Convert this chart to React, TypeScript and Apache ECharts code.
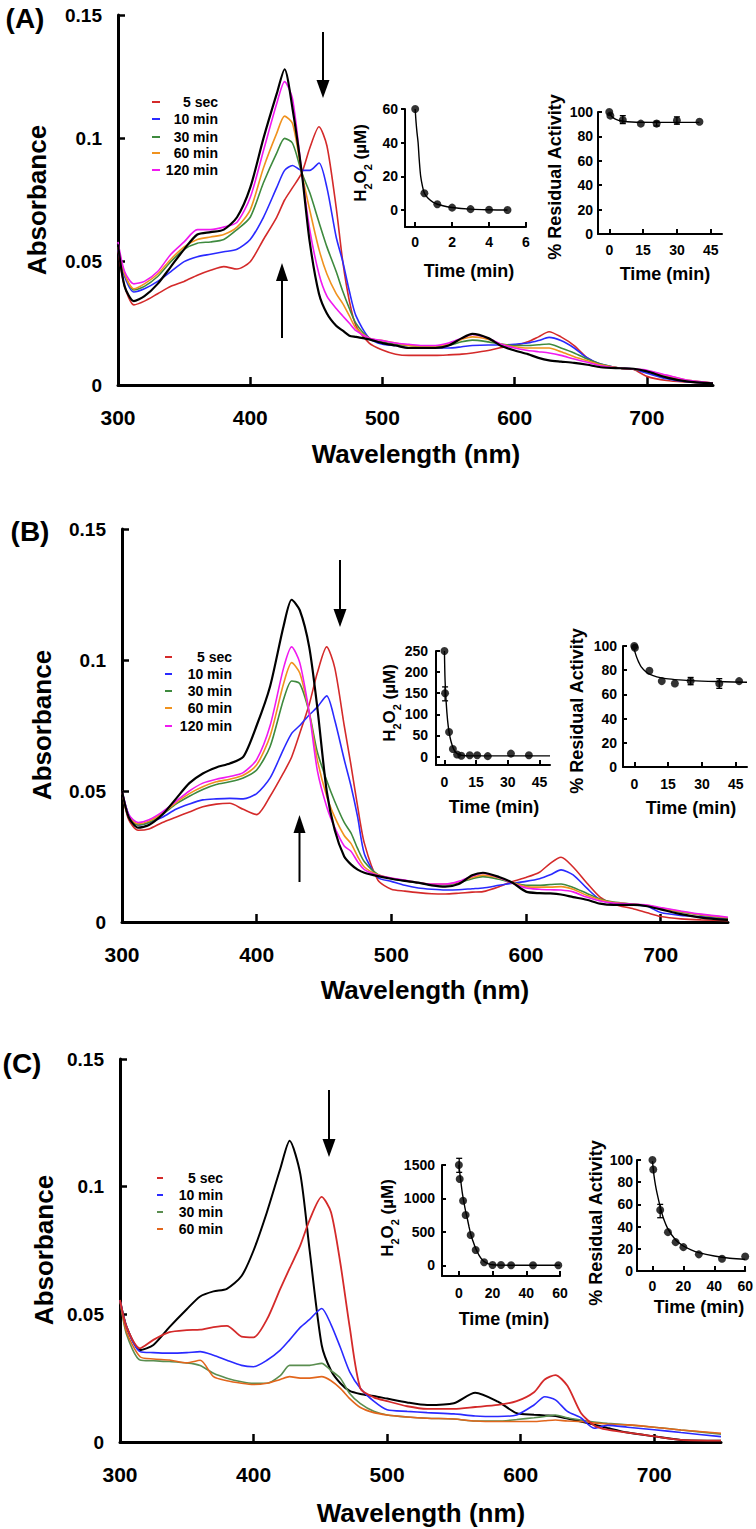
import React, { useEffect, useRef } from "react";
import * as echarts from "echarts";

const W = 756;
const H = 1529;
const FONT = '"Liberation Sans", Arial, Helvetica, sans-serif';
const NARROW = '"Liberation Sans Narrow", "Liberation Sans", Arial, sans-serif';

// ---------- Panel A spectra ----------
const wlA = [300, 305, 312, 320, 330, 340, 350, 360, 370, 380, 390, 400, 410, 420, 426, 432, 439, 445, 452, 458, 465, 470, 475, 480, 490, 500, 510, 520, 530, 540, 550, 560, 568, 580, 590, 600, 610, 618, 626, 635, 645, 655, 665, 680, 690, 700, 715, 730, 750];
const aRed = [.055, .040, .0325, .034, .037, .040, .042, .0445, .0465, .048, .047, .050, .059, .068, .075, .080, .086, .096, .1047, .097, .072, .050, .034, .024, .017, .0142, .0125, .012, .012, .012, .0122, .0125, .013, .014, .0152, .016, .0175, .0195, .0216, .0195, .016, .011, .0082, .0068, .0063, .0035, .0018, .0012, .0007];
const aBlue = [.055, .044, .0377, .039, .042, .046, .050, .052, .053, .054, .055, .059, .068, .080, .087, .089, .087, .087, .090, .080, .060, .050, .038, .028, .019, .0165, .016, .015, .015, .015, .015, .0155, .016, .0162, .0162, .0165, .017, .018, .0193, .018, .015, .011, .0085, .0068, .0064, .0048, .0025, .0013, .0007];
const aGreen = [.056, .045, .0385, .040, .044, .050, .055, .0575, .058, .059, .063, .068, .082, .094, .100, .098, .086, .078, .066, .056, .046, .038, .031, .025, .019, .0175, .0165, .016, .0155, .0155, .016, .0175, .0182, .0175, .0166, .016, .016, .0163, .0166, .015, .013, .0105, .0085, .0068, .0064, .0057, .0035, .0018, .0008];
const aOrange = [.056, .045, .039, .041, .045, .051, .056, .059, .060, .061, .064, .071, .088, .102, .109, .106, .086, .071, .055, .045, .037, .033, .028, .023, .019, .018, .017, .016, .0158, .0158, .0165, .0185, .0195, .0185, .0165, .0155, .015, .015, .015, .0135, .0115, .0098, .0082, .0068, .0064, .0058, .0038, .002, .0008];
const aMagenta = [.058, .046, .041, .042, .046, .053, .058, .063, .063, .064, .066, .076, .095, .114, .123, .116, .086, .063, .045, .036, .031, .028, .025, .022, .019, .018, .017, .0165, .016, .016, .017, .019, .0205, .019, .0165, .015, .014, .0135, .013, .012, .0105, .0092, .0078, .0068, .0065, .006, .004, .002, .0008];
const aBlack = [.057, .040, .034, .036, .041, .048, .055, .061, .062, .063, .068, .080, .100, .118, .128, .112, .086, .058, .037, .029, .024, .022, .020, .0195, .0185, .017, .016, .015, .015, .015, .016, .019, .0207, .019, .0158, .014, .0125, .011, .010, .0095, .009, .0082, .0072, .0068, .0066, .0055, .003, .0015, .0007];

// ---------- Panel B spectra ----------
const wlB = wlA;
const bRed = [.050, .039, .035, .0355, .038, .040, .042, .044, .045, .0453, .043, .041, .048, .057, .063, .072, .083, .095, .105, .097, .075, .060, .044, .030, .016, .0125, .0118, .0112, .0108, .0107, .011, .0114, .0116, .0135, .0155, .017, .019, .0224, .0247, .021, .015, .0095, .0068, .005, .0035, .0021, .0012, .0008, .0005];
const bBlue = [.050, .041, .037, .038, .040, .043, .045, .0466, .047, .0472, .047, .049, .055, .066, .072, .075, .079, .082, .0863, .077, .062, .052, .040, .026, .017, .0155, .014, .013, .0125, .0122, .0123, .0127, .013, .014, .0148, .0155, .0165, .018, .0199, .018, .013, .0085, .0072, .0065, .006, .0036, .0025, .002, .001];
const bGreen = [.050, .040, .037, .038, .041, .045, .048, .0506, .0525, .0535, .055, .058, .067, .085, .092, .091, .080, .065, .054, .046, .038, .034, .028, .023, .0182, .0165, .0157, .015, .0142, .0142, .015, .0165, .0173, .0163, .015, .014, .014, .0143, .0145, .0132, .011, .0088, .0076, .0068, .0062, .0052, .0038, .0026, .0014];
const bOrange = [.050, .040, .0375, .0385, .0415, .0455, .049, .0516, .0535, .0545, .056, .060, .071, .091, .099, .095, .080, .062, .048, .040, .033, .030, .025, .021, .018, .0167, .0158, .015, .0145, .0145, .0153, .017, .0179, .0168, .015, .0135, .0133, .0133, .0135, .0125, .0102, .0085, .0074, .0068, .0064, .0053, .004, .0028, .0016];
const bMagenta = [.050, .041, .038, .039, .042, .046, .050, .053, .0545, .0555, .057, .062, .075, .097, .105, .099, .080, .058, .044, .036, .029, .027, .023, .020, .0178, .0168, .016, .015, .0145, .0145, .0155, .0175, .0186, .017, .0148, .013, .0125, .0123, .0122, .0115, .0095, .008, .0072, .0068, .0065, .0055, .0042, .003, .0018];
const bBlack = [.050, .040, .036, .037, .041, .047, .053, .0567, .059, .0605, .063, .075, .090, .113, .123, .119, .105, .082, .050, .035, .025, .022, .020, .0188, .0175, .0165, .0157, .015, .014, .0135, .0145, .0178, .0188, .0172, .015, .0116, .011, .0109, .0105, .0095, .0085, .007, .0065, .0065, .006, .0048, .003, .0017, .0008];

// ---------- Panel C spectra ----------
const wlC = [300, 305, 315, 325, 337, 350, 360, 370, 380, 391, 400, 410, 420, 427, 435, 442, 451, 458, 465, 472, 480, 490, 500, 515, 530, 550, 566, 583, 597, 610, 618, 626, 635, 645, 655, 665, 680, 700, 720, 750];
const cRed = [.0556, .045, .0367, .040, .043, .0438, .044, .045, .0455, .0413, .041, .048, .060, .068, .077, .087, .096, .090, .070, .045, .021, .0175, .016, .014, .013, .013, .0137, .0145, .016, .0195, .0245, .0262, .022, .0115, .0065, .0048, .0037, .0022, .0008, .0005];
const cBlue = [.0556, .045, .0354, .035, .0348, .035, .0354, .034, .032, .030, .0295, .032, .036, .040, .0449, .048, .0523, .046, .037, .0275, .021, .016, .0126, .012, .0115, .011, .0102, .010, .0106, .0145, .0177, .0165, .012, .0095, .0054, .0065, .0058, .0048, .0037, .0021];
const cGreen = [.0556, .042, .0321, .0318, .0315, .031, .030, .0269, .025, .0236, .023, .023, .026, .030, .030, .030, .0308, .028, .025, .019, .015, .012, .0106, .0098, .0093, .009, .0082, .0082, .0088, .0095, .010, .0106, .0095, .0086, .0078, .0073, .0067, .0058, .0047, .0031];
const cOrange = [.0556, .043, .0334, .0325, .0321, .031, .032, .0256, .024, .023, .0225, .023, .0245, .0256, .025, .025, .0256, .024, .021, .017, .0135, .0115, .0106, .0098, .0093, .009, .0082, .008, .008, .008, .0083, .0086, .0082, .008, .0075, .007, .0067, .0058, .0047, .0034];
const cBlack = [.0556, .045, .036, .038, .045, .052, .057, .059, .060, .065, .075, .090, .107, .118, .105, .075, .038, .028, .023, .020, .0188, .018, .017, .0155, .0145, .0152, .0193, .0158, .0113, .0107, .0104, .0102, .0092, .008, .0068, .0055, .0037, .0022, .0008, .0005];

const legendAB = ["5 sec", "10 min", "30 min", "60 min", "120 min"];
const legendC = ["5 sec", "10 min", "30 min", "60 min"];

// ---------- Insets ----------
// A: H2O2
const a1Time = [0, 0.5, 1.2, 2, 3, 4, 5];
const a1Val = [60, 10, 3.5, 1.5, 0.6, 0.2, 0.1];
const a1FitTime = [0, 0.05, 0.1, 0.16, 0.22, 0.3, 0.4, 0.5, 0.7, 1.0, 1.5, 2, 3, 4, 5];
const a1FitVal = [60, 52, 46, 40, 30, 20, 14, 10, 7, 4.5, 2.6, 1.6, 0.6, 0.2, 0.05];
// A: residual activity
const a2Time = [0, 0.5, 6, 14, 21, 30, 40];
const a2Val = [100, 97, 93.5, 90.5, 90.5, 93, 92];
const a2ErrT = [6, 21, 30];
const a2ErrLo = [90.5, 88.5, 90];
const a2ErrHi = [97, 92.5, 96];
const a2FitTime = [0, 1, 2, 3, 5, 8, 12, 20, 30, 40];
const a2FitVal = [99, 96.5, 95, 94, 92.8, 92, 91.6, 91.5, 91.5, 91.5];

// B: H2O2
const b1Time = [0, 0.3, 2.2, 4, 6, 8, 12, 15.5, 20.5, 31.5, 40];
const b1Val = [250, 150, 58, 18, 5, 2, 3, 3, 1, 7, 3];
const b1ErrT = [0.3];
const b1ErrLo = [132];
const b1ErrHi = [165];
const b1FitTime = [0, 0.3, 0.8, 1.5, 2.2, 3, 4, 5, 6, 8, 10, 15, 25, 50];
const b1FitVal = [250, 180, 130, 85, 58, 38, 22, 12, 7, 3, 2, 1.5, 1.5, 1.5];
// B: residual activity
const b2Time = [0, 0.3, 6.7, 12.2, 18, 25, 37.7, 46.5];
const b2Val = [100, 98.5, 79.5, 71, 69, 71, 69, 71];
const b2ErrT = [25, 37.7];
const b2ErrLo = [68, 65];
const b2ErrHi = [74, 73];
const b2FitTime = [0, 1, 2, 3, 5, 7, 10, 14, 20, 30, 40, 50];
const b2FitVal = [97, 91, 86.5, 83, 79, 76.5, 74.5, 73, 72, 71, 70.5, 70];

// C: H2O2
const c1Time = [0, 0.5, 2.5, 4, 7, 10, 15, 20, 25, 31, 44, 59];
const c1Val = [1500, 1290, 966, 752, 453, 229, 45, 5, 5, 2, 2, 2];
const c1ErrT = [0.2];
const c1ErrLo = [1390];
const c1ErrHi = [1600];
const c1FitTime = [0, 1, 2, 3, 4, 5, 6, 7, 8, 10, 12, 14, 16, 18, 20, 25, 30, 40, 60];
const c1FitVal = [1500, 1290, 1090, 940, 810, 700, 580, 470, 390, 250, 150, 80, 40, 18, 8, 2, 0, 0, 0];
// C: residual activity
const c2Time = [0, 0.5, 5, 10, 15, 20, 30, 45, 60];
const c2Val = [100, 91.5, 55, 35, 26, 21.5, 15, 11, 13];
const c2ErrT = [5];
const c2ErrLo = [48];
const c2ErrHi = [60];
const c2FitTime = [0, 1, 2, 3, 5, 7, 10, 15, 20, 25, 30, 40, 50, 60];
const c2FitVal = [99, 86, 77, 70, 58, 48, 38, 28, 22.5, 19, 16.5, 13.5, 11.5, 10.5];

const COL = {
  red: "#d42a2a",
  blue: "#2a2aff",
  green: "#3e8a3e",
  orange: "#f0921e",
  magenta: "#f01af0",
  black: "#000000",
  cOrange: "#e2661c",
  cGreen: "#5a8e50",
};

const pairs = (xs: number[], ys: number[]) => xs.map((x, i) => [x, ys[i]]);
const plain = (v: number) => String(v);

function mainX(gi: number) {
  return {
    type: "value", gridIndex: gi, min: 300, max: 750,
    axisLine: { onZero: false, lineStyle: { color: "#000", width: 3 } },
    axisTick: { inside: true, length: 8, lineStyle: { color: "#000", width: 2.5 }, customValues: [400, 500, 600, 700] },
    axisLabel: { customValues: [300, 400, 500, 600, 700], color: "#000", fontSize: 21, fontWeight: "bold", fontFamily: FONT, margin: 22, formatter: plain },
    splitLine: { show: false },
  };
}
function mainY(gi: number) {
  return {
    type: "value", gridIndex: gi, min: 0, max: 0.15, interval: 0.05,
    axisLine: { show: true, onZero: false, lineStyle: { color: "#000", width: 3 } },
    axisTick: { show: true, inside: true, length: 7, lineStyle: { color: "#000", width: 2.5 } },
    axisLabel: { color: "#000", fontSize: 19, fontWeight: "bold", fontFamily: FONT, margin: 16, formatter: (v: number) => String(Math.round(v * 100) / 100) },
    splitLine: { show: false },
  };
}
function insetX(gi: number, min: number, max: number, ticks: number[], margin: number, family = FONT) {
  return {
    type: "value", gridIndex: gi, min, max,
    axisLine: { onZero: false, lineStyle: { color: "#000", width: 2 } },
    axisTick: { inside: true, length: 5, lineStyle: { color: "#000", width: 2 }, customValues: ticks },
    axisLabel: { customValues: ticks, color: "#000", fontSize: 14, fontWeight: "bold", fontFamily: family, margin, formatter: plain },
    splitLine: { show: false },
  };
}
function insetY(gi: number, min: number, max: number, ticks: number[], margin: number, inside = true, family = FONT) {
  return {
    type: "value", gridIndex: gi, min, max,
    axisLine: { show: true, onZero: false, lineStyle: { color: "#000", width: 2 } },
    axisTick: { show: true, inside, length: 4, lineStyle: { color: "#000", width: 2 }, customValues: ticks },
    axisLabel: { customValues: ticks, color: "#000", fontSize: 14, fontWeight: "bold", fontFamily: family, margin, formatter: plain },
    splitLine: { show: false },
  };
}

function specSeries(gi: number, wl: number[], vals: number[], color: string, width: number) {
  return {
    type: "line", xAxisIndex: gi, yAxisIndex: gi, data: pairs(wl, vals),
    showSymbol: false, symbol: "none", smooth: 0.25, silent: true,
    lineStyle: { color, width },
  };
}
function scatterSeries(gi: number, t: number[], v: number[]) {
  return {
    type: "scatter", xAxisIndex: gi, yAxisIndex: gi, data: pairs(t, v),
    symbol: "circle", symbolSize: 8, itemStyle: { color: "#000" }, silent: true, z: 5,
  };
}
function fitSeries(gi: number, t: number[], v: number[]) {
  return {
    type: "line", xAxisIndex: gi, yAxisIndex: gi, data: pairs(t, v),
    showSymbol: false, symbol: "none", smooth: 0.35, silent: true,
    lineStyle: { color: "#000", width: 1.4 },
  };
}
function errSeries(gi: number, t: number[], lo: number[], hi: number[]) {
  return {
    type: "custom", xAxisIndex: gi, yAxisIndex: gi, silent: true, z: 4,
    data: t.map((x, i) => [x, lo[i], hi[i]]),
    encode: { x: 0, y: [1, 2] },
    renderItem: (_p: any, api: any) => {
      const a = api.coord([api.value(0), api.value(1)]);
      const b = api.coord([api.value(0), api.value(2)]);
      const st = { stroke: "#000", lineWidth: 1.3 };
      return {
        type: "group",
        children: [
          { type: "line", shape: { x1: a[0], y1: a[1], x2: b[0], y2: b[1] }, style: st },
          { type: "line", shape: { x1: a[0] - 3, y1: a[1], x2: a[0] + 3, y2: a[1] }, style: st },
          { type: "line", shape: { x1: b[0] - 3, y1: b[1], x2: b[0] + 3, y2: b[1] }, style: st },
        ],
      };
    },
  };
}

function txt(x: number, y: number, text: string, size: number, rot = 0, align = "center", family = FONT) {
  return {
    type: "text", x, y, rotation: rot, silent: true,
    style: { text, fontSize: size, fontWeight: "bold", fontFamily: family, fill: "#000", align, verticalAlign: "middle" },
  };
}
function h2o2Label(x: number, y: number) {
  return {
    type: "text", x, y, rotation: Math.PI / 2, silent: true,
    style: {
      text: "{n|H}{s|2}{n|O}{s|2}{n| (µM)}",
      align: "center", verticalAlign: "middle", fill: "#000",
      rich: {
        n: { fontSize: 17, fontWeight: "bold", fontFamily: FONT, fill: "#000", lineHeight: 22, verticalAlign: "bottom" },
        s: { fontSize: 11, fontWeight: "bold", fontFamily: FONT, fill: "#000", lineHeight: 22, verticalAlign: "bottom", padding: [0, 0, -4, 0] },
      },
    },
  };
}
function arrowDown(x: number, yTop: number, yTip: number) {
  return [
    { type: "line", silent: true, shape: { x1: x, y1: yTop, x2: x, y2: yTip - 12 }, style: { stroke: "#000", lineWidth: 2 } },
    { type: "polygon", silent: true, shape: { points: [[x - 6.5, yTip - 18], [x + 6.5, yTip - 18], [x, yTip]] }, style: { fill: "#000" } },
  ];
}
function arrowUp(x: number, yTip: number, yBottom: number) {
  return [
    { type: "line", silent: true, shape: { x1: x, y1: yTip + 12, x2: x, y2: yBottom }, style: { stroke: "#000", lineWidth: 2 } },
    { type: "polygon", silent: true, shape: { points: [[x - 6, yTip + 18], [x + 6, yTip + 18], [x, yTip]] }, style: { fill: "#000" } },
  ];
}
function legend(labels: string[], colors: string[], dx1: number, dx2: number, textRight: number, ys: number[]) {
  const out: any[] = [];
  labels.forEach((l, i) => {
    out.push({ type: "line", silent: true, shape: { x1: dx1, y1: ys[i], x2: dx2, y2: ys[i] }, style: { stroke: colors[i], lineWidth: 2 } });
    out.push(txt(textRight, ys[i], l, 14, 0, "right"));
  });
  return out;
}

function buildOption() {
  const grid = [
    { left: 118, top: 15, width: 595, height: 370 },
    { left: 405, top: 109, width: 121, height: 118 },
    { left: 598, top: 112, width: 124, height: 122 },
    { left: 122, top: 529, width: 606, height: 393 },
    { left: 436, top: 651, width: 114, height: 114 },
    { left: 623, top: 646, width: 124, height: 121 },
    { left: 120, top: 1059, width: 601, height: 383 },
    { left: 442, top: 1165, width: 118, height: 111 },
    { left: 637, top: 1160, width: 111, height: 111 },
  ];
  const xAxis = [
    mainX(0),
    insetX(1, -0.55, 6, [0, 2, 4, 6], 8),
    insetX(2, -5, 50, [0, 15, 30, 45], 9),
    mainX(3),
    insetX(4, -4, 50, [0, 15, 30, 45], 10, NARROW),
    insetX(5, -5, 50, [0, 15, 30, 45], 10, NARROW),
    mainX(6),
    insetX(7, -10, 60, [0, 20, 40, 60], 10),
    insetX(8, -10, 60, [0, 20, 40, 60], 8),
  ];
  const yAxis = [
    mainY(0),
    insetY(1, -10, 60, [0, 20, 40, 60], 7, false),
    insetY(2, 0, 100, [0, 20, 40, 60, 80, 100], 5),
    mainY(3),
    insetY(4, -20, 250, [0, 50, 100, 150, 200, 250], 8, true, NARROW),
    insetY(5, 0, 100, [0, 20, 40, 60, 80, 100], 6, true, NARROW),
    mainY(6),
    insetY(7, -160, 1500, [0, 500, 1000, 1500], 7),
    insetY(8, 0, 100, [0, 20, 40, 60, 80, 100], 4),
  ];
  const series: any[] = [
    specSeries(0, wlA, aRed, COL.red, 1.6),
    specSeries(0, wlA, aBlue, COL.blue, 1.6),
    specSeries(0, wlA, aGreen, COL.green, 1.6),
    specSeries(0, wlA, aOrange, COL.orange, 1.6),
    specSeries(0, wlA, aMagenta, COL.magenta, 1.6),
    specSeries(0, wlA, aBlack, COL.black, 2.2),
    specSeries(3, wlB, bRed, COL.red, 1.6),
    specSeries(3, wlB, bBlue, COL.blue, 1.6),
    specSeries(3, wlB, bGreen, COL.green, 1.6),
    specSeries(3, wlB, bOrange, COL.orange, 1.6),
    specSeries(3, wlB, bMagenta, COL.magenta, 1.6),
    specSeries(3, wlB, bBlack, COL.black, 2.2),
    specSeries(6, wlC, cBlack, COL.black, 2),
    specSeries(6, wlC, cGreen, COL.cGreen, 1.6),
    specSeries(6, wlC, cOrange, COL.cOrange, 1.6),
    specSeries(6, wlC, cBlue, COL.blue, 1.6),
    specSeries(6, wlC, cRed, COL.red, 1.8),
    fitSeries(1, a1FitTime, a1FitVal), scatterSeries(1, a1Time, a1Val),
    fitSeries(2, a2FitTime, a2FitVal), errSeries(2, a2ErrT, a2ErrLo, a2ErrHi), scatterSeries(2, a2Time, a2Val),
    fitSeries(4, b1FitTime, b1FitVal), errSeries(4, b1ErrT, b1ErrLo, b1ErrHi), scatterSeries(4, b1Time, b1Val),
    fitSeries(5, b2FitTime, b2FitVal), errSeries(5, b2ErrT, b2ErrLo, b2ErrHi), scatterSeries(5, b2Time, b2Val),
    fitSeries(7, c1FitTime, c1FitVal), errSeries(7, c1ErrT, c1ErrLo, c1ErrHi), scatterSeries(7, c1Time, c1Val),
    fitSeries(8, c2FitTime, c2FitVal), errSeries(8, c2ErrT, c2ErrLo, c2ErrHi), scatterSeries(8, c2Time, c2Val),
  ];
  const colsAB = [COL.red, COL.blue, COL.green, COL.orange, COL.magenta];
  const colsC = [COL.red, COL.blue, COL.cGreen, COL.cOrange];
  const graphic: any[] = [
    txt(25, 18, "(A)", 28), txt(30, 531, "(B)", 28), txt(22, 1063, "(C)", 28),
    txt(37, 200, "Absorbance", 26, Math.PI / 2),
    txt(42, 725, "Absorbance", 26, Math.PI / 2),
    txt(44, 1250, "Absorbance", 26, Math.PI / 2),
    txt(416, 454, "Wavelength (nm)", 26),
    txt(425, 990, "Wavelength (nm)", 26),
    txt(421, 1513, "Wavelength (nm)", 26),
    txt(469, 271, "Time (min)", 18), txt(665, 274, "Time (min)", 18),
    txt(494, 807, "Time (min)", 18, 0, "center", NARROW), txt(691, 808, "Time (min)", 18, 0, "center", NARROW),
    txt(504, 1319, "Time (min)", 18, 0, "center", NARROW), txt(699, 1307, "Time (min)", 18),
    h2o2Label(358, 163), h2o2Label(387, 703), h2o2Label(385, 1218),
    txt(555, 177, "% Residual Activity", 18, Math.PI / 2),
    txt(577, 711, "% Residual Activity", 18, Math.PI / 2),
    txt(596, 1223, "% Residual Activity", 18, Math.PI / 2),
    ...legend(legendAB, colsAB, 152, 160, 218, [102, 119, 137, 153, 170]),
    ...legend(legendAB, colsAB, 165, 172, 232, [657, 674, 691, 708, 726]),
    ...legend(legendC, colsC, 157, 163, 223, [1178, 1195, 1212, 1229]),
    ...arrowDown(323, 32, 98),
    ...arrowUp(282, 263, 338),
    ...arrowDown(340, 560, 627),
    ...arrowUp(299.5, 815, 882),
    ...arrowDown(329, 1090, 1157),
  ];
  return { animation: false, backgroundColor: "#fff", grid, xAxis, yAxis, series, graphic };
}

export default function App() {
  const ref = useRef<HTMLDivElement>(null);
  useEffect(() => {
    if (!ref.current) return;
    const chart = echarts.init(ref.current, null, { renderer: "svg", width: W, height: H });
    chart.setOption(buildOption() as any);
    return () => chart.dispose();
  }, []);
  return <div ref={ref} style={{ position: "absolute", left: 0, top: 0, width: W, height: H, background: "#fff" }} />;
}
